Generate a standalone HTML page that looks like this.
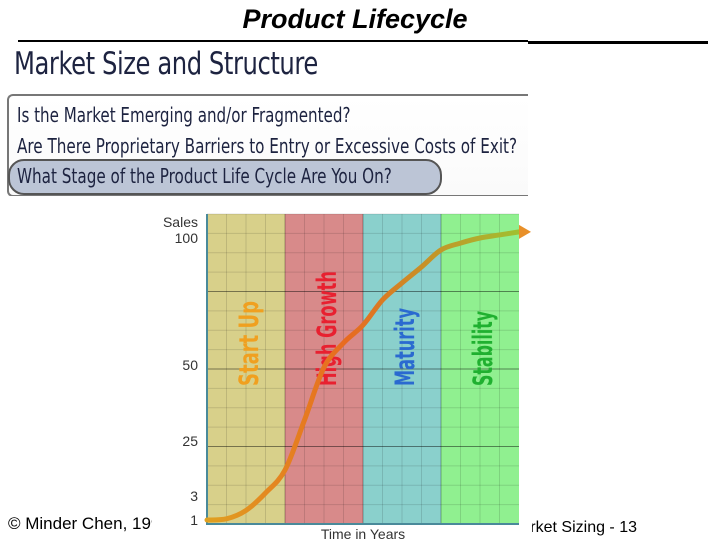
<!DOCTYPE html>
<html><head><meta charset="utf-8"><style>
body{margin:0;width:720px;height:540px;position:relative;background:#fff;overflow:hidden;font-family:"Liberation Sans",sans-serif}
.abs{position:absolute}
</style></head><body>
<div class="abs" style="left:0;width:710px;top:4px;text-align:center;font-size:27px;font-weight:bold;font-style:italic">Product Lifecycle</div>
<div class="abs" style="left:18px;top:40px;width:510px;height:2px;background:#000"></div>
<div class="abs" style="left:528px;top:41px;width:180px;height:3px;background:#000"></div>
<div class="abs" style="left:8px;top:514px;font-size:17px">© Minder Chen, 1996</div>
<div class="abs" style="right:83px;top:519px;font-size:16px;white-space:nowrap">Market Sizing - 13</div>
<div class="abs" style="left:5px;top:44px;width:523px;height:152px;background:#fff;font-family:'DejaVu Sans Condensed','Liberation Sans Narrow',sans-serif;color:#1d2340;overflow:hidden">
  <div style="position:absolute;left:9px;top:2px;font-size:31px;transform:scaleX(.87);transform-origin:left;letter-spacing:-.5px;white-space:nowrap">Market Size and Structure</div>
  <div style="position:absolute;left:2px;top:50px;width:525px;height:99px;border:2px solid #777;border-right:none;border-radius:6px 0 0 6px;background:linear-gradient(#fff,#fafafa)"></div>
  <div style="position:absolute;left:12px;top:59px;font-size:20px;transform:scaleX(.84);transform-origin:left;white-space:nowrap">Is the Market Emerging and/or Fragmented?</div>
  <div style="position:absolute;left:12px;top:90px;font-size:20px;transform:scaleX(.845);transform-origin:left;white-space:nowrap">Are There Proprietary Barriers to Entry or Excessive Costs of Exit?</div>
  <div style="position:absolute;left:3px;top:115px;width:430px;height:32px;border:2px solid #555;border-radius:16px;background:#bcc5d6"></div>
  <div style="position:absolute;left:12px;top:120px;font-size:20px;transform:scaleX(.845);transform-origin:left;white-space:nowrap">What Stage of the Product Life Cycle Are You On?</div>
</div>
<svg class="abs" style="left:0;top:0" width="720" height="540" id="chart"></svg>
<script>
const stageNames=["Start Up","High Growth","Maturity","Stability"];
const stageFills=["#d8d08a","#d88a8a","#8ad0cc","#90f090"];
const stageText=["#f0a020","#e82030","#2a6ad0","#20b030"];
const tickValues=[1,3,25,50,100];
const tickPixels=[520,496,441,365,238];
const timePoints=[0,0.5,1,1.5,2,2.5,3,3.5,4,4.5,5,5.5,6,6.5,7,7.5,8];
const salesValues=[1,1.1,1.8,4.2,13.4,31.9,49.2,58.7,65.7,75.6,82.3,88.6,95.3,98,100,101.2,102.4];
const X0=207,X1=519,YT=214,YB=524;
const ns="http://www.w3.org/2000/svg";
const svg=document.getElementById('chart');
function xs(t){return X0+(X1-X0)*t/8;}
function ys(v){
  for(let i=0;i<tickValues.length-1;i++){
    if(v<=tickValues[i+1]||i==tickValues.length-2){
      const a=tickValues[i],b=tickValues[i+1];
      return tickPixels[i]+(tickPixels[i+1]-tickPixels[i])*(v-a)/(b-a);
    }
  }
}
function mk(tag,attrs){const e=document.createElementNS(ns,tag);for(const k in attrs)e.setAttribute(k,attrs[k]);svg.appendChild(e);return e;}
const bg=mk('rect',{x:152,y:198,width:380,height:342,fill:'#fff'});


stageNames.forEach((n,i)=>{
  const r=mk('rect',{x:xs(i*2),y:YT,width:xs(2)-xs(0),height:YB-YT,fill:stageFills[i]});
  
  
});
for(let i=0;i<=16;i++){
  const l=mk('line',{x1:X0,x2:X1,y1:YT+i*(YB-YT)/16,y2:YT+i*(YB-YT)/16,stroke:'#000','stroke-opacity':(i%4==0&&i>0&&i<16)?0.45:0.12});
  
  
}
for(let i=1;i<16;i++){
  const l=mk('line',{x1:X0+i*(X1-X0)/16,x2:X0+i*(X1-X0)/16,y1:YT,y2:YB,stroke:'#000','stroke-opacity':i%4==0?0.3:0.12});
  
  
}
const ax=mk('path',{d:`M${X0} ${YT}V${YB}H${X1}`,stroke:'#4a8a9a','stroke-width':2,fill:'none'});


const labelLens=[85,115,78,75];
stageNames.forEach((n,i)=>{
  const cx=xs(i*2+1)+12,cy=386;
  const t=mk('text',{x:cx,y:cy,transform:`rotate(-90 ${cx} ${cy})`,fill:stageText[i],'font-size':27,'font-weight':'bold','font-family':'DejaVu Sans Condensed, Liberation Sans Narrow, sans-serif',textLength:labelLens[i],lengthAdjust:'spacingAndGlyphs'});
  t.textContent=n;
  
  
});
tickValues.forEach(v=>{
  const t=mk('text',{x:198,y:ys(v)+5,'text-anchor':'end','font-size':14,fill:'#333'});
  t.textContent=v;
  
  
});
const st=mk('text',{x:198,y:227,'text-anchor':'end','font-size':14,fill:'#333'});st.textContent='Sales';


const xt=mk('text',{x:363,y:539,'text-anchor':'middle','font-size':14,fill:'#333'});xt.textContent='Time in Years';


const pts=timePoints.map((t,i)=>[xs(t),ys(salesValues[i])]);
let d=`M${pts[0][0]} ${pts[0][1]}`;
for(let i=0;i<pts.length-1;i++){
  const p0=pts[Math.max(0,i-1)],p1=pts[i],p2=pts[i+1],p3=pts[Math.min(pts.length-1,i+2)];
  d+=`C${p1[0]+(p2[0]-p0[0])/6} ${p1[1]+(p2[1]-p0[1])/6} ${p2[0]-(p3[0]-p1[0])/6} ${p2[1]-(p3[1]-p1[1])/6} ${p2[0]} ${p2[1]}`;
}
const defs=mk('defs',{});
defs.innerHTML='<linearGradient id="cg" x1="0" x2="1"><stop offset="0" stop-color="#e0a020"/><stop offset="0.45" stop-color="#e86a20"/><stop offset="1" stop-color="#a0c030"/></linearGradient>';
const c=mk('path',{d:d,stroke:'url(#cg)','stroke-width':5,fill:'none','stroke-linecap':'round'});


const last=pts[pts.length-1];
const ar=mk('path',{d:`M${last[0]} ${last[1]-7}L${last[0]+12} ${last[1]}L${last[0]} ${last[1]+7}Z`,fill:'#e8902a'});


</script>
</body></html>
